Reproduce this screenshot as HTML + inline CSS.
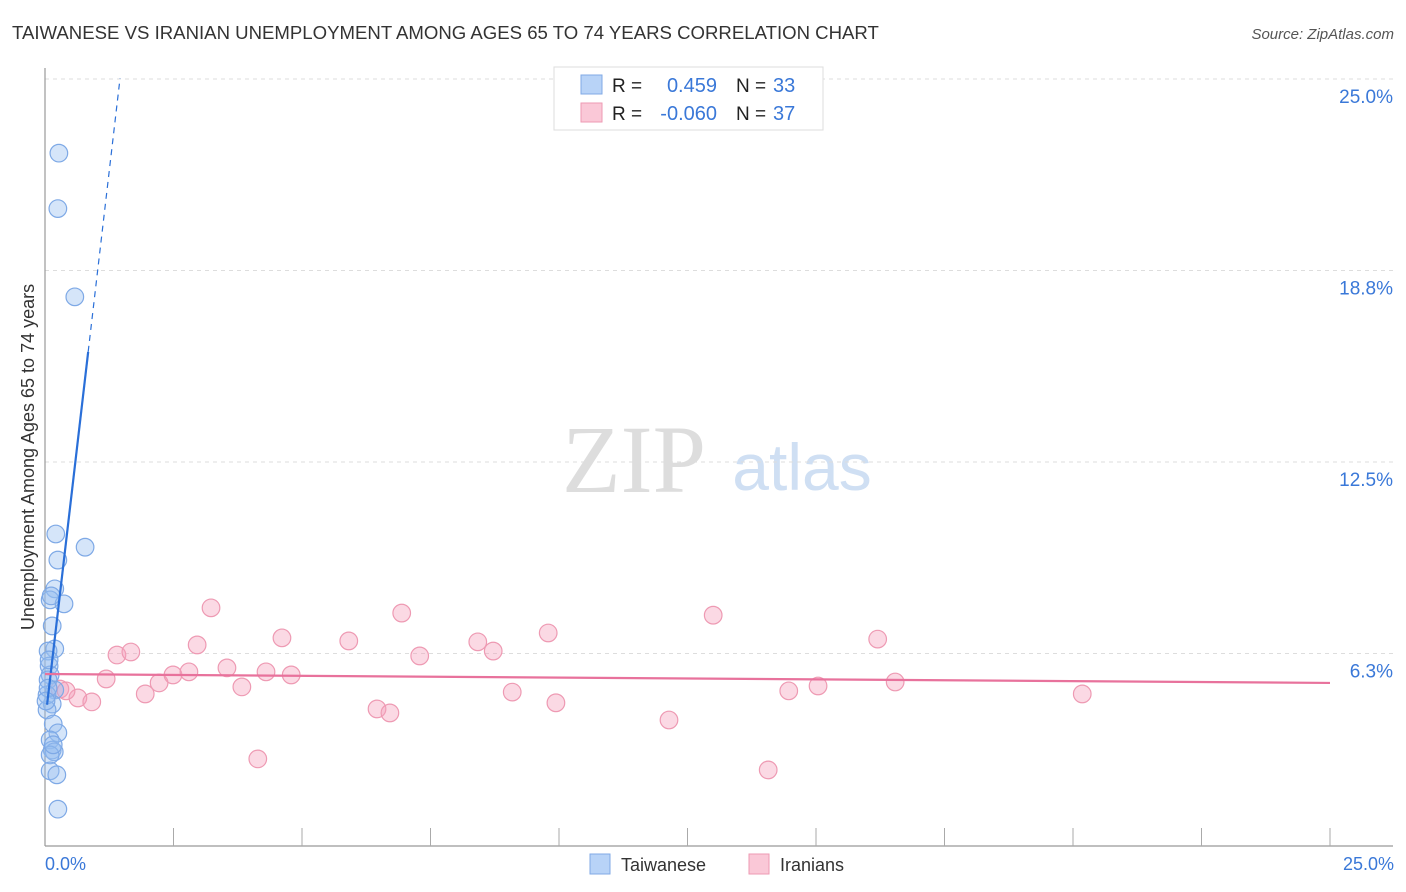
<!DOCTYPE html>
<html><head><meta charset="utf-8"><style>
body{margin:0;background:#fff;font-family:"Liberation Sans",sans-serif;}
svg{display:block}
</style></head><body>
<svg width="1406" height="892" xmlns="http://www.w3.org/2000/svg">
<text x="12" y="39" font-size="18.6" fill="#333">TAIWANESE VS IRANIAN UNEMPLOYMENT AMONG AGES 65 TO 74 YEARS CORRELATION CHART</text>
<text x="1394" y="39" font-size="15" fill="#555" font-style="italic" text-anchor="end">Source: ZipAtlas.com</text>
<text x="634" y="492" font-size="96" fill="#ddd" font-family="Liberation Serif,serif" text-anchor="middle">ZIP</text>
<text x="802" y="490" font-size="66" fill="#cfdff3" text-anchor="middle">atlas</text>
<g id="grid"></g>
<line x1="45" y1="68" x2="45" y2="846" stroke="#999" stroke-width="1.2"/>
<line x1="45" y1="846" x2="1393" y2="846" stroke="#999" stroke-width="1.2"/>
<g id="xticks"></g>
<text transform="translate(34,457) rotate(-90)" font-size="18" fill="#333" text-anchor="middle">Unemployment Among Ages 65 to 74 years</text>
<text x="45" y="870" font-size="18" fill="#3a78d8">0.0%</text>
<text x="1394" y="870" font-size="18" fill="#3a78d8" text-anchor="end">25.0%</text>
<g id="points"></g>
<g id="lines"></g>
<g>
<rect x="554" y="67" width="269" height="63" fill="#fff" stroke="#ddd"/>
<rect x="581" y="75" width="21" height="19" fill="#b8d3f7" stroke="#80aae6"/>
<rect x="581" y="103" width="21" height="19" fill="#fac8d7" stroke="#ee9ab3"/>
<text x="612" y="92" font-size="19" fill="#222">R =</text>
<text x="717" y="92" font-size="20" fill="#3a78d8" text-anchor="end">0.459</text>
<text x="736" y="92" font-size="19" fill="#222">N =</text>
<text x="773" y="92" font-size="20" fill="#3a78d8">33</text>
<text x="612" y="120" font-size="19" fill="#222">R =</text>
<text x="717" y="120" font-size="20" fill="#3a78d8" text-anchor="end">-0.060</text>
<text x="736" y="120" font-size="19" fill="#222">N =</text>
<text x="773" y="120" font-size="20" fill="#3a78d8">37</text>
</g>
<g>
<rect x="590" y="854" width="20" height="20" fill="#b8d3f7" stroke="#80aae6"/>
<text x="621" y="871" font-size="18" fill="#333">Taiwanese</text>
<rect x="749" y="854" width="20" height="20" fill="#fac8d7" stroke="#ee9ab3"/>
<text x="780" y="871" font-size="18" fill="#333">Iranians</text>
</g>
</svg>
<script>
const yTicks=[6.25,12.5,18.75,25];
const yTickLabels=["6.3%","12.5%","18.8%","25.0%"];
const blueX=[0.27,0.25,0.58,0.21,0.78,0.25,0.19,0.10,0.37,0.14,0.19,0.06,0.08,0.10,0.06,0.19,0.14,0.04,0.16,0.25,0.10,0.14,0.18,0.10,0.10,0.23,0.25,0.04,0.06,0.02,0.08,0.12,0.16];
const blueY=[22.58,20.77,17.89,10.15,9.72,9.3,8.36,8.0,7.87,7.15,6.4,6.33,5.84,5.55,5.39,5.06,4.6,4.41,3.95,3.66,3.43,3.1,3.04,2.94,2.42,2.29,1.17,4.9,5.12,4.7,6.04,8.13,3.27];
const pinkX=[1.40,1.67,1.19,1.95,2.22,2.49,2.80,2.96,3.23,3.54,3.83,4.14,4.30,4.61,4.79,5.91,6.46,6.71,6.94,7.29,8.42,8.72,9.09,9.79,9.94,12.14,13.00,14.07,14.47,15.04,16.20,16.54,20.18,0.29,0.64,0.91,0.41];
const pinkY=[6.2,6.3,5.42,4.93,5.29,5.55,5.65,6.53,7.74,5.78,5.16,2.81,5.65,6.76,5.55,6.66,4.44,4.31,7.57,6.17,6.63,6.33,4.99,6.92,4.64,4.08,7.5,2.45,5.03,5.19,6.72,5.32,4.93,5.09,4.8,4.67,5.03];
const blueFit={a:4.0,b:14.4,solidTo:0.84,dashTo:1.46};
const pinkFit={y0:5.58,y1:5.29,xEnd:25};
const NS="http://www.w3.org/2000/svg";
const X=v=>45+v*51.4, Y=v=>845-v*30.64;
function mk(t,a,p){const e=document.createElementNS(NS,t);for(const k in a)e.setAttribute(k,a[k]);document.getElementById(p).appendChild(e);return e;}
yTicks.forEach((t,i)=>{
 const g=mk('line',{x1:45,x2:1393,y1:Y(t),y2:Y(t),stroke:'#ddd','stroke-dasharray':'4,4'},'grid');
 
 
 const l=mk('text',{x:1393,y:Y(t)+24,'font-size':19,fill:'#3a78d8','text-anchor':'end'},'grid');
 l.textContent=yTickLabels[i];
 
 
});
for(let i=1;i<=10;i++){
 const t=mk('line',{x1:X(i*2.5),x2:X(i*2.5),y1:828,y2:846,stroke:'#aaa'},'xticks');
 
 
}
pinkX.forEach((x,i)=>{
 const c=mk('circle',{cx:X(x),cy:Y(pinkY[i]),r:8.8,fill:'rgba(244,160,188,0.4)',stroke:'#ee9ab3','stroke-width':1.2},'points');
 
 
});
blueX.forEach((x,i)=>{
 const c=mk('circle',{cx:X(x),cy:Y(blueY[i]),r:8.8,fill:'rgba(150,190,240,0.4)',stroke:'#7ea9e6','stroke-width':1.2},'points');
 
 
});
const f=v=>blueFit.a+blueFit.b*v;
const bl=mk('line',{x1:X(0.04),y1:Y(f(0.04)),x2:X(blueFit.solidTo),y2:Y(f(blueFit.solidTo)),stroke:'#2a6fd8','stroke-width':2.2},'lines');


const bd=mk('line',{x1:X(blueFit.solidTo),y1:Y(f(blueFit.solidTo)),x2:X(blueFit.dashTo),y2:Y(f(blueFit.dashTo)),stroke:'#2a6fd8','stroke-width':1.2,'stroke-dasharray':'6,5'},'lines');


const pl=mk('line',{x1:X(0),y1:Y(pinkFit.y0),x2:X(pinkFit.xEnd),y2:Y(pinkFit.y1),stroke:'#e8729c','stroke-width':2.2},'lines');


</script>
</body></html>
